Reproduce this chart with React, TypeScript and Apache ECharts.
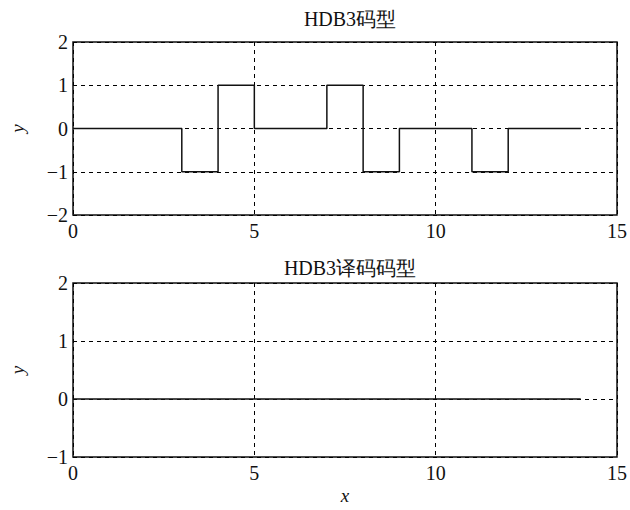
import React, { useEffect, useRef } from "react";
import * as echarts from "echarts";

const hdb3Bits = [0, 0, 0, -1, 1, 0, 0, 1, -1, 0, 0, -1, 0, 0];
const decodedBits = [0, 0, 0, 0, 0, 0, 0, 0, 0, 0, 0, 0, 0, 0];
const xTicks = [0, 5, 10, 15];
const titles = ["HDB3码型", "HDB3译码码型"];

const FONT = "Liberation Serif";

function stepData(bits: number[]) {
  const d: number[][] = bits.map((v, i) => [i, v]);
  d.push([bits.length, bits[bits.length - 1]]);
  return d;
}

const fmt = (v: number) => (v < 0 ? "\u2212" + Math.abs(v) : String(v));

export default function App() {
  const ref = useRef<HTMLDivElement>(null);
  useEffect(() => {
    if (!ref.current) return;
    const chart = echarts.init(ref.current, null, { renderer: "svg" });
    const grids = [
      { left: 73, top: 42, width: 544, height: 173 },
      { left: 73, top: 283, width: 544, height: 174 },
    ];
    const yRanges = [
      [-2, 2],
      [-1, 2],
    ];
    const split = {
      show: true,
      lineStyle: { color: "#000", type: [4, 4] as any, width: 1 },
    };
    chart.setOption({
      animation: false,
      backgroundColor: "#fff",
      title: titles.map((t, i) => ({
        text: t,
        left: 345,
        textAlign: "center",
        top: i === 0 ? 4 : 253,
        textStyle: { fontFamily: FONT, fontSize: 20, fontWeight: "normal", color: "#111" },
      })),
      grid: grids.map((g) => ({
        ...g,
        show: true,
        containLabel: false,
        outerBoundsMode: "none",
        borderColor: "#111",
        borderWidth: 1.5,
        backgroundColor: "transparent",
      })),
      xAxis: [0, 1].map((i) => ({
        type: "value",
        gridIndex: i,
        min: xTicks[0],
        max: xTicks[xTicks.length - 1],
        interval: 5,
        axisLine: { show: false },
        axisTick: { show: false },
        splitLine: split,
        axisLabel: {
          fontFamily: FONT,
          fontSize: 20,
          color: "#111",
          margin: 6,
          formatter: fmt,
        },
        name: i === 1 ? "x" : "",
        nameLocation: "middle",
        nameGap: 29,
        nameTextStyle: { fontFamily: FONT, fontSize: 19, fontStyle: "italic", color: "#111" },
      })),
      yAxis: [0, 1].map((i) => ({
        type: "value",
        gridIndex: i,
        min: yRanges[i][0],
        max: yRanges[i][1],
        interval: 1,
        axisLine: { show: false },
        axisTick: { show: false },
        splitLine: split,
        axisLabel: {
          fontFamily: FONT,
          fontSize: 20,
          color: "#111",
          margin: 5,
          formatter: fmt,
        },
        name: "y",
        nameLocation: "middle",
        nameRotate: 90,
        nameGap: 46,
        nameTextStyle: { fontFamily: FONT, fontSize: 19, fontStyle: "italic", color: "#111" },
      })),
      series: [
        {
          type: "line",
          xAxisIndex: 0,
          yAxisIndex: 0,
          step: "end",
          data: stepData(hdb3Bits),
          symbol: "none",
          lineStyle: { color: "#111", width: 1.5 },
        },
        {
          type: "line",
          xAxisIndex: 1,
          yAxisIndex: 1,
          step: "end",
          data: stepData(decodedBits),
          symbol: "none",
          lineStyle: { color: "#111", width: 1.5 },
        },
      ],
    });
    return () => chart.dispose();
  }, []);
  return (
    <div
      ref={ref}
      style={{ position: "fixed", left: 0, top: 0, width: 630, height: 510 }}
    />
  );
}
